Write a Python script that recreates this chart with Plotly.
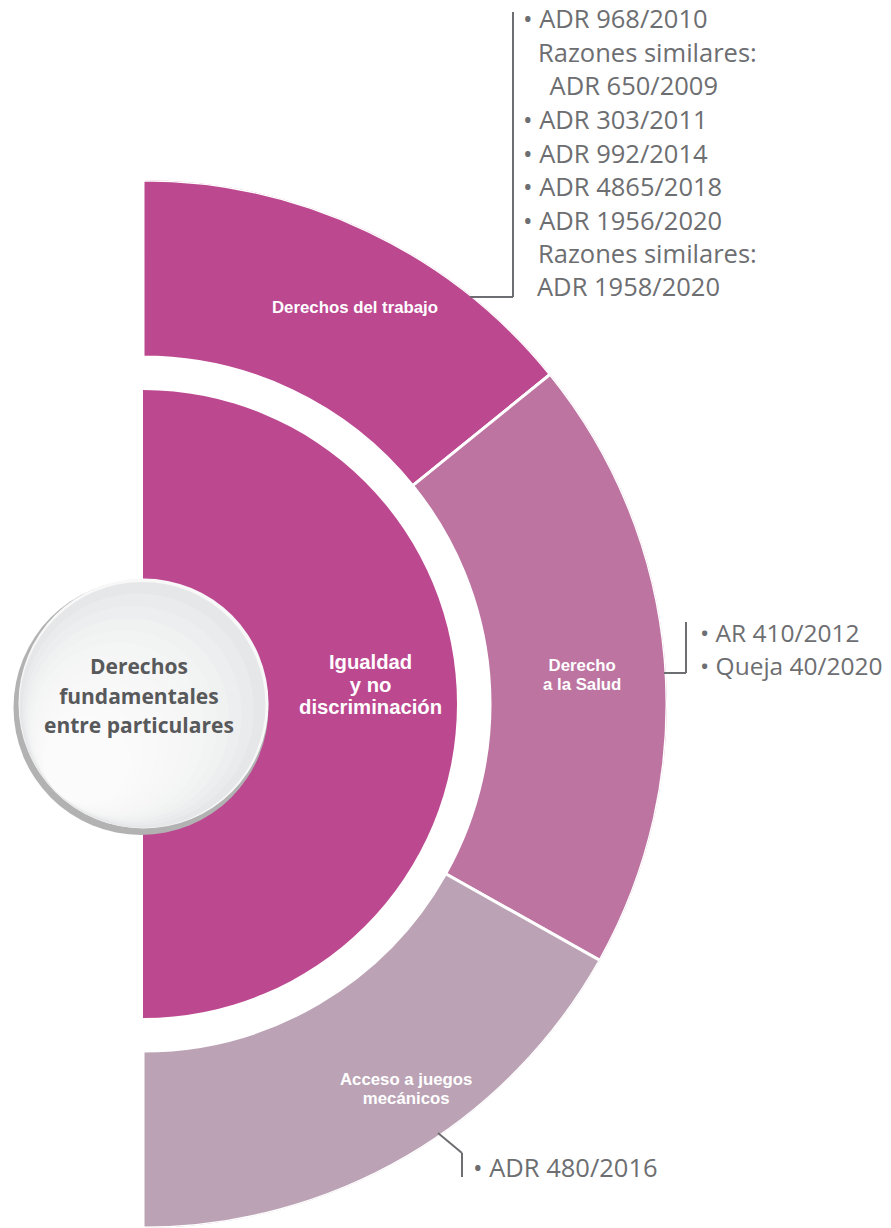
import plotly.graph_objects as go

W, H = 891, 1228

# ---------------- data ----------------
center_label = ["Derechos", "fundamentales", "entre particulares"]
core_label = ["Igualdad", "y no", "discriminación"]
segments = ["Derechos del trabajo", "Derecho<br>a la Salud", "Acceso a juegos<br>mecánicos"]
segment_span_deg = [51.0, 68.3, 60.7]          # angular share of each outer segment, top to bottom
segment_colors = ["#BC4890", "#BD74A1", "#BBA3B5"]
core_color = "#BC4890"
cases_trabajo = ["• ADR 968/2010", "Razones similares:", " ADR 650/2009", "• ADR 303/2011",
                 "• ADR 992/2014", "• ADR 4865/2018", "• ADR 1956/2020", "Razones similares:",
                 "ADR 1958/2020"]
cases_salud = ["• AR 410/2012", "• Queja 40/2020"]
cases_juegos = ["• ADR 480/2016"]

# ---------------- geometry (layout, px) ----------------
CX, CY = 143, 704
R_OUT = 524
R_CORE = 314
R_RING_IN = 347

thetas = []
start = 90.0
for s in segment_span_deg:
    thetas.append(start - s / 2)
    start -= s

fig = go.Figure()
fig.add_trace(go.Barpolar(r=[R_CORE], base=[0], theta=[0], width=[180],
                          marker=dict(color=core_color, line=dict(color="white", width=0)),
                          hoverinfo="skip", showlegend=False))
fig.add_trace(go.Barpolar(r=[R_OUT - R_RING_IN] * len(segments), base=[R_RING_IN] * len(segments),
                          theta=thetas, width=segment_span_deg,
                          marker=dict(color=segment_colors, line=dict(color="white", width=3)),
                          text=segments, hoverinfo="skip", showlegend=False))

def px(x):
    return x / W

def py(y):
    return 1 - y / H

shapes = []
def circ(cx, cy, r, fill):
    shapes.append(dict(type="circle", xref="paper", yref="paper", layer="above",
                       x0=px(cx - r), x1=px(cx + r), y0=py(cy + r), y1=py(cy - r),
                       fillcolor=fill, line=dict(width=0)))

# central circle with shading
circ(141, 707.5, 127.5, "#b2b2b2")
circ(143.5, 703.5, 125, "#f8f8f8")
circ(142.5, 705, 123, "#e6e7e8")
N = 12
for k in range(1, N + 1):
    t = k / N
    rk = 123 * (1 - 0.7 * t)
    dk = (123 - rk - 1)
    circ(142.5 - 0.707 * dk, 705 + 0.707 * dk, rk, "rgba(255,255,255,0.17)")

GRAY = "#6d6e71"
def seg(x0, y0, x1, y1):
    shapes.append(dict(type="line", xref="paper", yref="paper", layer="above",
                       x0=px(x0), y0=py(y0), x1=px(x1), y1=py(y1),
                       line=dict(color=GRAY, width=2)))

# leader lines
seg(513, 12, 513, 297)
seg(513, 297, 470, 297)
seg(686, 622, 686, 673)
seg(686, 673, 664, 673)
seg(438, 1133, 462, 1153)
seg(462, 1153, 462, 1177)

ann = []
def text(x, y, s, size, color, anchor="center", bold=False, family="Open Sans"):
    ann.append(dict(xref="paper", yref="paper", x=px(x), y=py(y), text=s, showarrow=False,
                    xanchor=anchor, yanchor="middle",
                    font=dict(family=family, size=size, color=color,
                              weight="bold" if bold else "normal")))

def block(x, y, lines, glyph, gap, color, family="Open Sans"):
    """multi-line centred bold text; line pitch = gap px, glyph size = glyph px"""
    s = "<br>".join(f"<span style='font-size:{glyph}px'>{ln}</span>" for ln in lines)
    text(x, y, s, gap / 1.3, color, bold=True, family=family)

LAB = "Liberation Sans, Arial, sans-serif"
# central circle text
block(139, 695, center_label, 21, 29.5, "#58595b")
# core text
block(370, 684, core_label, 20.3, 22.5, "white", family=LAB)
# segment labels
seg_pos = [(355, 307), (582, 675), (406, 1089)]
for s, (x, y) in zip(segments, seg_pos):
    block(x, y, s.split("<br>"), 16.8, 18.8, "white", family=LAB)

# case lists
list_x = [521, 536, 541, 521, 521, 521, 521, 536, 535]
for i, (s, x) in enumerate(zip(cases_trabajo, list_x)):
    text(x, 18.5 + i * 33.5, s, 25.5, GRAY, anchor="left")
for i, s in enumerate(cases_salud):
    text(698, 632 + i * 33.5, s, 24.5, GRAY, anchor="left")
for s in cases_juegos:
    text(471, 1167, s, 25.5, GRAY, anchor="left")

fig.update_layout(
    width=W, height=H, margin=dict(l=0, r=0, t=0, b=0),
    paper_bgcolor="white", plot_bgcolor="white", showlegend=False,
    polar=dict(domain=dict(x=[px(CX), px(CX + R_OUT)], y=[py(CY + R_OUT), py(CY - R_OUT)]),
               sector=[-90, 90], bgcolor="rgba(0,0,0,0)", bargap=0, hole=0,
               radialaxis=dict(visible=False, range=[0, R_OUT], showgrid=False),
               angularaxis=dict(visible=False, showgrid=False, direction="counterclockwise", rotation=0)),
    shapes=shapes, annotations=ann,
)
# remove the browser's default 8px body margin so the figure fills the window
fig.write_html("out.html", config={"displayModeBar": False},
               post_script="document.body.style.margin='0px';")
